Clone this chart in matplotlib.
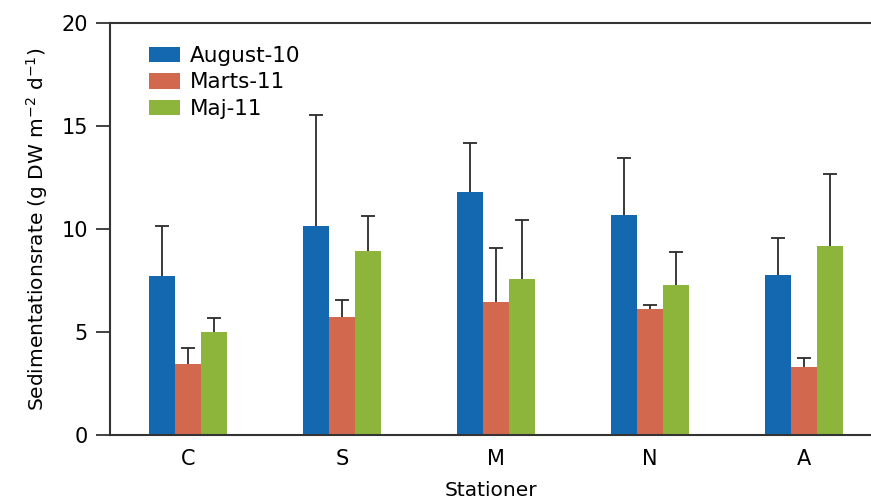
import numpy as np
import matplotlib
matplotlib.use("Agg")
import matplotlib.pyplot as plt

# Aflæste værdier
stationer = ["C", "S", "M", "N", "A"]
serier = ["August-10", "Marts-11", "Maj-11"]
aug10 = [7.72, 10.16, 11.78, 10.66, 7.78]
mar11 = [3.45, 5.71, 6.44, 6.10, 3.29]
maj11 = [4.98, 8.93, 7.57, 7.26, 9.19]
aug10_sd = [2.43, 5.37, 2.39, 2.77, 1.80]
mar11_sd = [0.75, 0.86, 2.62, 0.23, 0.46]
maj11_sd = [0.72, 1.68, 2.87, 1.64, 3.48]

farver = ["#1368AF", "#D2694E", "#8DB53C"]

plt.rcParams['font.family'] = ['DejaVu Sans']

fig = plt.figure(figsize=(8.71, 5.04), dpi=100)
ax = fig.add_axes([0.1263, 0.1369, 0.8737, 0.8175])

x = np.arange(len(stationer))
w = 0.168
for i, (vals, sd) in enumerate(zip([aug10, mar11, maj11], [aug10_sd, mar11_sd, maj11_sd])):
    pos = x + (i - 1) * w
    vals = np.array(vals)
    top = vals + np.array(sd)
    ax.bar(pos, vals, width=w, color=farver[i], label=serier[i], zorder=2)
    # kun opadgående fejlstreger
    ax.vlines(pos, vals, top, colors="#2b2b2b", linewidth=1.3, zorder=3)
    ax.plot(pos, top, linestyle="none", marker="_", markersize=10,
            markeredgewidth=1.3, color="#2b2b2b", zorder=3)

ax.set_xlim(-0.506, 4.435)
ax.set_ylim(0, 20)
ax.set_yticks([0, 5, 10, 15, 20])
ax.set_xticks(x)
ax.set_xticklabels(stationer)
ax.tick_params(axis="y", direction="out", length=10, width=1.3, color="#333333",
               labelsize=15, pad=6)
ax.tick_params(axis="x", length=0, labelsize=15, pad=10)
for s in ["left", "top", "bottom"]:
    ax.spines[s].set_linewidth(1.5)
    ax.spines[s].set_color("#333333")
ax.spines["right"].set_visible(False)

ax.set_ylabel("Sedimentationsrate (g DW m$^{-2}$ d$^{-1}$)", fontsize=14.5, labelpad=8)
ax.set_xlabel("Stationer", fontsize=14.5, labelpad=9)

ax.legend(loc="upper left", bbox_to_anchor=(0.04, 0.965), frameon=False, fontsize=15.5,
          handlelength=1.45, handleheight=0.75, handletextpad=0.45, labelspacing=0.3,
          borderaxespad=0)

fig.savefig("out.png", dpi=100)
